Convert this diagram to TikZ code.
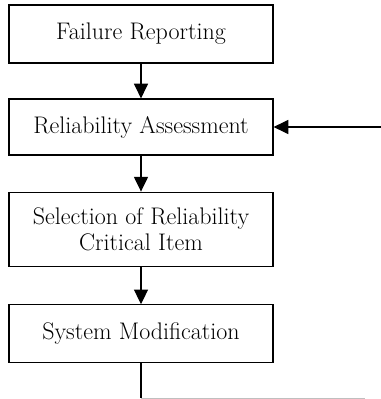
\documentclass[tikz,border=0pt]{standalone}
\usepackage{tikz}
\usetikzlibrary{arrows.meta}
\tikzset{
    stepbox/.style={rectangle,draw,line width=0.9pt,minimum width=198pt,align=center,
        font=\fontsize{18}{19.5}\selectfont,inner sep=0pt},
    flow/.style={-{Triangle[length=11pt,width=10.5pt]},line width=0.9pt}
}

\begin{document}
\begin{tikzpicture}[x=0.75pt,y=-0.75pt]
\useasboundingbox (0,0) rectangle (381,399);
\node[stepbox,minimum height=43.5pt] (report) at (141,34) {Failure Reporting};
\node[stepbox,minimum height=42pt] (assess) at (141,127) {Reliability Assessment};
\node[stepbox,minimum height=56pt] (select) at (141,229.5) {Selection of Reliability\\Critical Item};
\node[stepbox,minimum height=43pt] (modify) at (141,333.5) {System Modification};
\coordinate (in) at (381,127);
\coordinate (down) at (141,398);
\coordinate (back) at (365,398);

\draw[flow] (report) -- (assess);
\draw[flow] (assess) -- (select);
\draw[flow] (select) -- (modify);
\draw[flow] (in) -- (assess);
\draw[line width=0.9pt] (modify) -- (down);
\draw[line width=0.6pt,black!25] (down) -- (back);

\end{tikzpicture}
\end{document}
